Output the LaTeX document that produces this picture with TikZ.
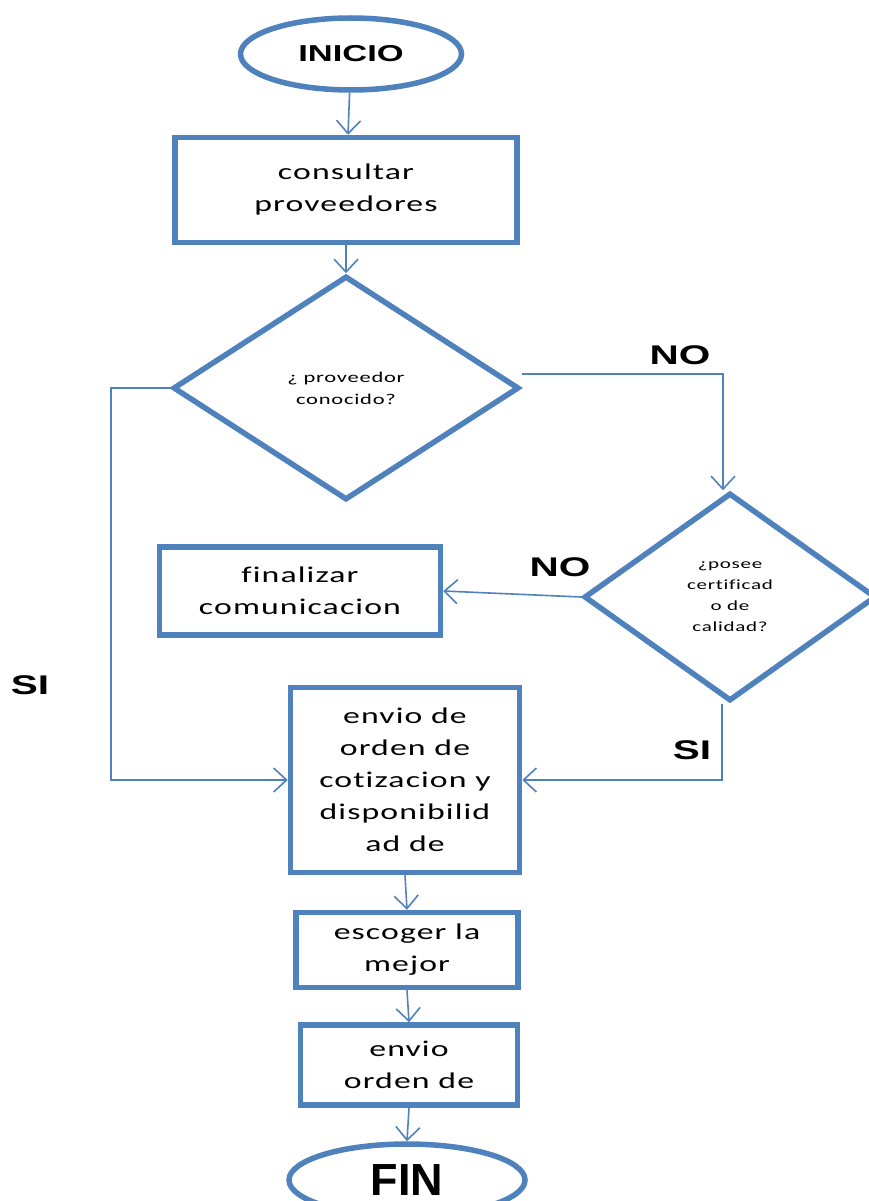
\documentclass[tikz,border=0pt]{standalone}
\usepackage{fontspec}
\setmainfont{Carlito}
\newfontfamily\cuerpo[FakeStretch=1.5,LetterSpace=5,Ligatures=NoCommon]{Carlito}
\newfontfamily\etiq[FakeStretch=1.5]{Liberation Sans Bold}
\newfontfamily\etiqfin{Liberation Sans Bold}
\usetikzlibrary{shapes.geometric,arrows.meta}
\definecolor{azul}{HTML}{4F81BD}
\tikzset{
  proceso/.style={draw=azul,line width=5.5pt,fill=white,align=center,inner sep=0pt,
    font=\cuerpo\fontsize{22.5}{32}\selectfont},
  decision/.style={diamond,draw=azul,line width=5.5pt,fill=white,align=center,inner sep=0pt,
    font=\cuerpo\fontsize{14}{21}\selectfont},
  terminal/.style={ellipse,draw=azul,line width=5.5pt,fill=white,inner sep=0pt},
  flujo/.style={draw=azul,line width=1.6pt,-{Straight Barb[length=13pt,width=24pt]}},
  resp/.style={font=\etiq\fontsize{27}{30}\selectfont}
}
\begin{document}
\begin{tikzpicture}[x=1pt,y=-1pt]
    \clip (0,0) rectangle (869,1201);
    %% NOTE: draw diagram
    %% start and first step
    \node[terminal,minimum width=221,minimum height=72,font=\etiq\fontsize{23}{26}\selectfont]
        (inicio) at (351,54) {INICIO};
    \node[proceso,minimum width=342,minimum height=105] (consultar) at (346,190) {consultar\\proveedores};
    %% questions
    \node[decision,minimum width=346,minimum height=224,font=\cuerpo\fontsize{15}{22}\selectfont]
        (conocido) at (346,388) {¿ proveedor\\conocido?};
    \node[decision,minimum width=292,minimum height=208] (calidad) at (730,597)
        {¿posee\\certificad\\o de\\calidad?};
    %% remaining steps
    \node[proceso,minimum width=281,minimum height=88] (finalizar) at (300,591) {finalizar\\comunicacion};
    \node[proceso,minimum width=229,minimum height=185] (cotizacion) at (405,780)
        {envio de\\orden de\\cotizacion y\\disponibilid\\ad de};
    \node[proceso,minimum width=222,minimum height=75] (escoger) at (407,950) {escoger la\\mejor};
    \node[proceso,minimum width=217,minimum height=80] (orden) at (409,1065) {envio\\orden de};
    \node[terminal,minimum width=236,minimum height=72,font=\etiqfin\fontsize{45}{48}\selectfont]
        (fin) at (407,1180) {FIN};
    %% answers
    \node[resp] (no1) at (680,355) {NO};
    \node[resp] (no2) at (560,567) {NO};
    \node[resp] (si1) at (30,685) {SI};
    \node[resp] (si2) at (692,750) {SI};
    %% arrows
    \draw[flujo] (inicio) -- (consultar);
    \draw[flujo] (consultar) -- (conocido);
    \draw[flujo] ([yshift=14pt]conocido.east) -| ([xshift=-7pt]calidad.north);
    \draw[flujo] (conocido.west) -- ++(-59,0) |- (cotizacion.west);
    \draw[flujo] (calidad.west) -- (finalizar.east);
    \draw[flujo] ([xshift=-8pt]calidad.south) |- (cotizacion.east);
    \draw[flujo] (cotizacion.south) -- (escoger.north);
    \draw[flujo] (escoger.south) -- (orden.north);
    \draw[flujo] (orden.south) -- (fin.north);
\end{tikzpicture}
\end{document}
